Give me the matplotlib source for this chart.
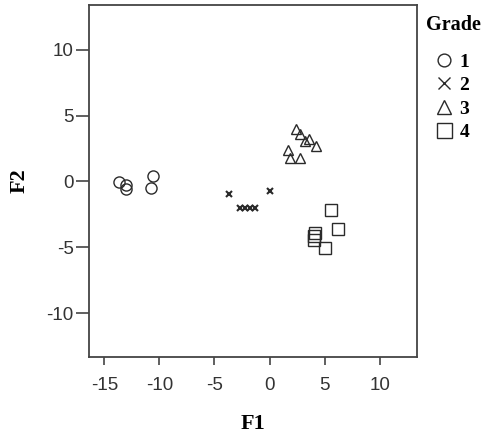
import matplotlib
matplotlib.use("Agg")
import matplotlib.pyplot as plt
from matplotlib.lines import Line2D

plt.rcParams['axes.unicode_minus'] = False

# Discriminant scores, grouped by grade
grades = ['1', '2', '3', '4']
f1 = {
    '1': [-13.65, -13.0, -13.0, -10.55, -10.8],
    '2': [-3.65, -2.7, -2.2, -1.75, -1.3, 0.0],
    '3': [2.4, 2.75, 3.25, 3.55, 4.25, 1.65, 1.9, 2.8],
    '4': [5.55, 6.2, 4.1, 4.05, 4.05, 5.05],
}
f2 = {
    '1': [-0.05, -0.3, -0.55, 0.4, -0.5],
    '2': [-0.95, -2.05, -2.05, -2.05, -2.05, -0.7],
    '3': [3.95, 3.6, 3.1, 3.25, 2.7, 2.35, 1.8, 1.8],
    '4': [-2.15, -3.65, -3.95, -4.15, -4.45, -5.05],
}
markers = {'1': 'o', '2': 'x', '3': '^', '4': 's'}
sizes = {'1': 8, '2': 4.8, '3': 7, '4': 8.3}
leg_sizes = {'1': 9.2, '2': 9, '3': 9.5, '4': 10.8}
xticks = [-15, -10, -5, 0, 5, 10]
yticks = [-10, -5, 0, 5, 10]

ink = '#2a2a2a'
tick_font = ['Liberation Sans Narrow', 'Liberation Sans', 'DejaVu Sans']

fig = plt.figure(figsize=(4.87, 4.38), dpi=100)
ax = fig.add_axes([89 / 487, 1 - 356.5 / 438, (417 - 89) / 487, (356.5 - 5) / 438])

for g in grades:
    ax.plot(f1[g], f2[g], linestyle='none', marker=markers[g], ms=sizes[g],
            mfc='none', mec=ink, mew=1.5 if g == '2' else 1.0)

ax.set_xlim(-16.4, 13.4)
ax.set_ylim(-13.3, 13.4)
ax.set_xticks(xticks)
ax.set_yticks(yticks)
ax.tick_params(direction='out', width=1.2, color='#444444',
               labelsize=13.5, labelcolor='#333333', top=False, right=False)
ax.tick_params(axis='x', length=6, pad=9)
ax.tick_params(axis='y', length=9.5, pad=1.5)
for lab in ax.get_xticklabels() + ax.get_yticklabels():
    lab.set_family(tick_font)
for sp in ax.spines.values():
    sp.set_color('#444444')
    sp.set_linewidth(1.3)

ax.set_xlabel('F1', family='Liberation Serif', fontweight='bold', fontsize=16, labelpad=14)
ax.set_ylabel('F2', family='Liberation Serif', fontweight='bold', fontsize=16, labelpad=12)

handles = [Line2D([], [], linestyle='none', marker=markers[g], ms=leg_sizes[g],
                  mfc='none', mec=ink, mew=1.0) for g in grades]
leg = ax.legend(handles, grades, loc='upper left',
                bbox_to_anchor=(434 / 487, 1 - 53 / 438),
                bbox_transform=fig.transFigure, frameon=False,
                handlelength=1.0, handletextpad=0.3, labelspacing=0.3,
                borderaxespad=0, borderpad=0,
                prop={'family': 'Liberation Serif', 'weight': 'bold', 'size': 14})
fig.text(426 / 487, 1 - 25 / 438, 'Grade', family='Liberation Serif',
         fontweight='bold', fontsize=14.5, ha='left', va='center')

fig.savefig('out.png', dpi=100)
